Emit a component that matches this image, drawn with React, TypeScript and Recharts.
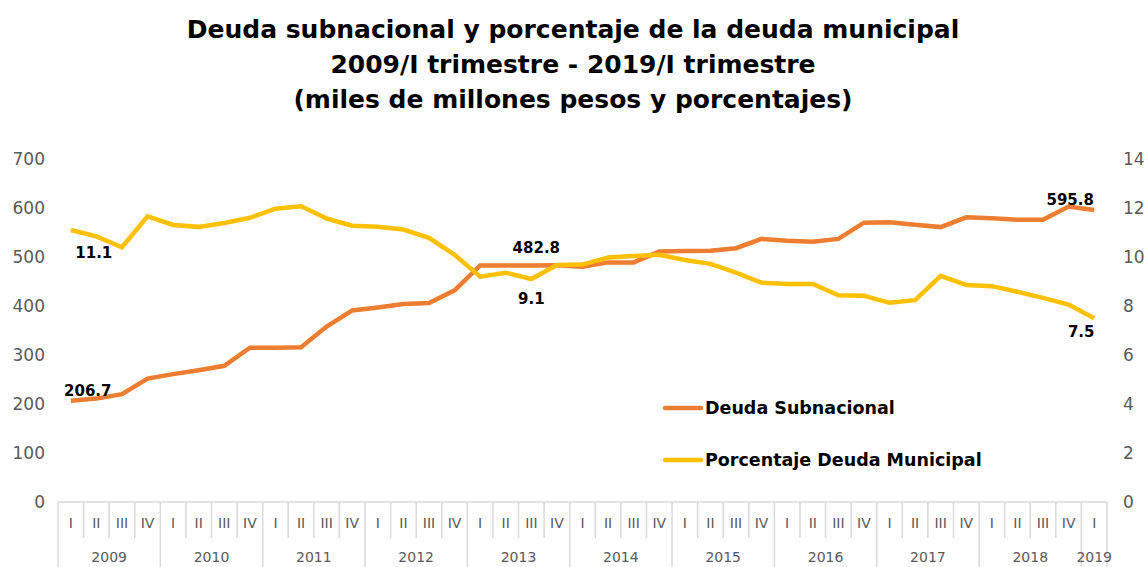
import React from "react"
import { LineChart, Line, XAxis, YAxis, Legend, LabelList } from "recharts"

const years = ["2009", "2010", "2011", "2012", "2013", "2014", "2015", "2016", "2017", "2018", "2019"]
const quarterNames = ["I", "II", "III", "IV"]

// miles de millones de pesos (eje izquierdo)
const deudaSubnacional = [
  206.7, 211, 220, 252, 261, 269, 278, 315, 315, 316, 358, 391, 397, 404, 406, 432, 482.8, 482.8, 482.8, 483,
  480, 489, 489, 511, 512, 513, 518, 537, 533, 531, 537, 570, 571, 566, 561, 581, 579, 576, 576, 603, 595.8,
]

// porcentaje (eje derecho)
const porcentajeMunicipal = [
  11.1, 10.84, 10.4, 11.66, 11.31, 11.23, 11.39, 11.6, 11.97, 12.07, 11.57, 11.28, 11.23, 11.12, 10.78, 10.09,
  9.2, 9.36, 9.1, 9.67, 9.69, 9.98, 10.04, 10.09, 9.88, 9.72, 9.36, 8.95, 8.9, 8.9, 8.44, 8.42, 8.13, 8.24,
  9.23, 8.86, 8.81, 8.58, 8.33, 8.06, 7.5,
]

const leftTicks = [0, 100, 200, 300, 400, 500, 600, 700]
const rightTicks = [0, 2, 4, 6, 8, 10, 12, 14]

// quarters per year: full years have four, 2019 only the first
const categories: { key: string; quarter: string; year: string; yearSize: number }[] = []
years.forEach((year) => {
  const n = year === "2019" ? 1 : 4
  for (let q = 0; q < n; q++) {
    categories.push({ key: `${year}-${quarterNames[q]}`, quarter: quarterNames[q], year, yearSize: n })
  }
})

const data = categories.map((c, i) => ({
  key: c.key,
  deuda: deudaSubnacional[i],
  porcentaje: porcentajeMunicipal[i],
}))

const W = 1146
const H = 567
const LEFT_W = 58
const RIGHT_W = 39
const TOP = 159
const X_H = 65
const BAND = (W - LEFT_W - RIGHT_W) / categories.length

const ORANGE = "#ED7D31"
const YELLOW = "#FFC000"
const GRID = "#D9D9D9"
const TICK = "#595959"
const FONT = "'DejaVu Sans', sans-serif"

function QuarterTick(props: any) {
  const { x, y, index } = props
  const c = categories[index]
  if (!c) return null
  const left = x - BAND / 2
  const isFirst = c.quarter === "I"
  const isLast = index === categories.length - 1
  return (
    <g>
      <line x1={left} y1={y} x2={left} y2={isFirst ? H : y + 36} stroke={GRID} strokeWidth={1.5} />
      {isLast && <line x1={left + BAND} y1={y} x2={left + BAND} y2={H} stroke={GRID} strokeWidth={1.5} />}
      <text x={x} y={y + 26} textAnchor="middle" fill={TICK} fontSize={14} fontFamily={FONT}>
        {c.quarter}
      </text>
      {isFirst && (
        <text
          x={left + (c.yearSize * BAND) / 2}
          y={y + 60}
          textAnchor="middle"
          fill={TICK}
          fontSize={14}
          fontFamily={FONT}
        >
          {c.year}
        </text>
      )}
    </g>
  )
}

// label offsets (dx, dy from the point) for the annotated points
const deudaLabelPos: Record<number, [number, number]> = { 0: [17, -5], 18: [5, -12], 40: [-24, -5] }
const porcLabelPos: Record<number, [number, number]> = { 0: [23, 28], 18: [0, 25], 40: [-13, 19] }

function makeLabel(pos: Record<number, [number, number]>) {
  return function PointLabel(props: any) {
    const { x, y, index, value } = props
    const p = pos[index]
    if (!p || x == null || y == null) return null
    return (
      <text
        x={x + p[0]}
        y={y + p[1]}
        textAnchor="middle"
        fill="#000"
        fontSize={15}
        fontWeight="bold"
        fontFamily={FONT}
      >
        {Number(value).toFixed(1)}
      </text>
    )
  }
}

function LegendBox() {
  const items = [
    { name: "Deuda Subnacional", color: ORANGE },
    { name: "Porcentaje Deuda Municipal", color: YELLOW },
  ]
  return (
    <svg width={360} height={80} style={{ overflow: "visible" }}>
      {items.map((it, i) => (
        <g key={it.name} transform={`translate(0, ${14 + i * 52})`}>
          <line x1={7} y1={0} x2={43} y2={0} stroke={it.color} strokeWidth={4.5} strokeLinecap="round" />
          <text x={47} y={6} fontSize={17.5} fontWeight="bold" fontFamily={FONT} fill="#000">
            {it.name}
          </text>
        </g>
      ))}
    </svg>
  )
}

export default function App() {
  return (
    <div style={{ position: "absolute", left: 0, top: 0, width: W, height: H, background: "#fff" }}>
      <div
        style={{
          position: "absolute",
          left: 0,
          top: 12,
          width: W,
          textAlign: "center",
          fontFamily: FONT,
          fontWeight: "bold",
          fontSize: 25,
          lineHeight: "35px",
          color: "#000",
        }}
      >
        <div>Deuda subnacional y porcentaje de la deuda municipal</div>
        <div>2009/I trimestre - 2019/I trimestre</div>
        <div>(miles de millones pesos y porcentajes)</div>
      </div>
      <LineChart width={W} height={H} data={data} margin={{ top: TOP, right: 0, bottom: 0, left: 0 }}>
        <XAxis
          dataKey="key"
          interval={0}
          height={X_H}
          padding={{ left: BAND / 2, right: BAND / 2 }}
          tickLine={false}
          tickSize={0}
          tickMargin={0}
          axisLine={{ stroke: GRID, strokeWidth: 1.5 }}
          tick={<QuarterTick />}
        />
        <YAxis
          yAxisId="left"
          width={LEFT_W}
          domain={[0, 700]}
          ticks={leftTicks}
          axisLine={false}
          tickLine={false}
          tickSize={0}
          tickMargin={13}
          tick={{ fill: TICK, fontSize: 17, fontFamily: FONT }}
        />
        <YAxis
          yAxisId="right"
          orientation="right"
          width={RIGHT_W}
          domain={[0, 14]}
          ticks={rightTicks}
          axisLine={false}
          tickLine={false}
          tickSize={0}
          tickMargin={16}
          tick={{ fill: TICK, fontSize: 17, fontFamily: FONT, textAnchor: "start" }}
        />
        <Legend
          layout="vertical"
          align="center"
          verticalAlign="middle"
          content={<LegendBox />}
          wrapperStyle={{ left: 658, top: 394, width: 360 }}
        />
        <Line
          yAxisId="left"
          type="linear"
          dataKey="deuda"
          name="Deuda Subnacional"
          stroke={ORANGE}
          strokeWidth={4.5}
          dot={false}
          isAnimationActive={false}
        >
          <LabelList dataKey="deuda" content={makeLabel(deudaLabelPos)} />
        </Line>
        <Line
          yAxisId="right"
          type="linear"
          dataKey="porcentaje"
          name="Porcentaje Deuda Municipal"
          stroke={YELLOW}
          strokeWidth={4.5}
          dot={false}
          isAnimationActive={false}
        >
          <LabelList dataKey="porcentaje" content={makeLabel(porcLabelPos)} />
        </Line>
      </LineChart>
    </div>
  )
}
